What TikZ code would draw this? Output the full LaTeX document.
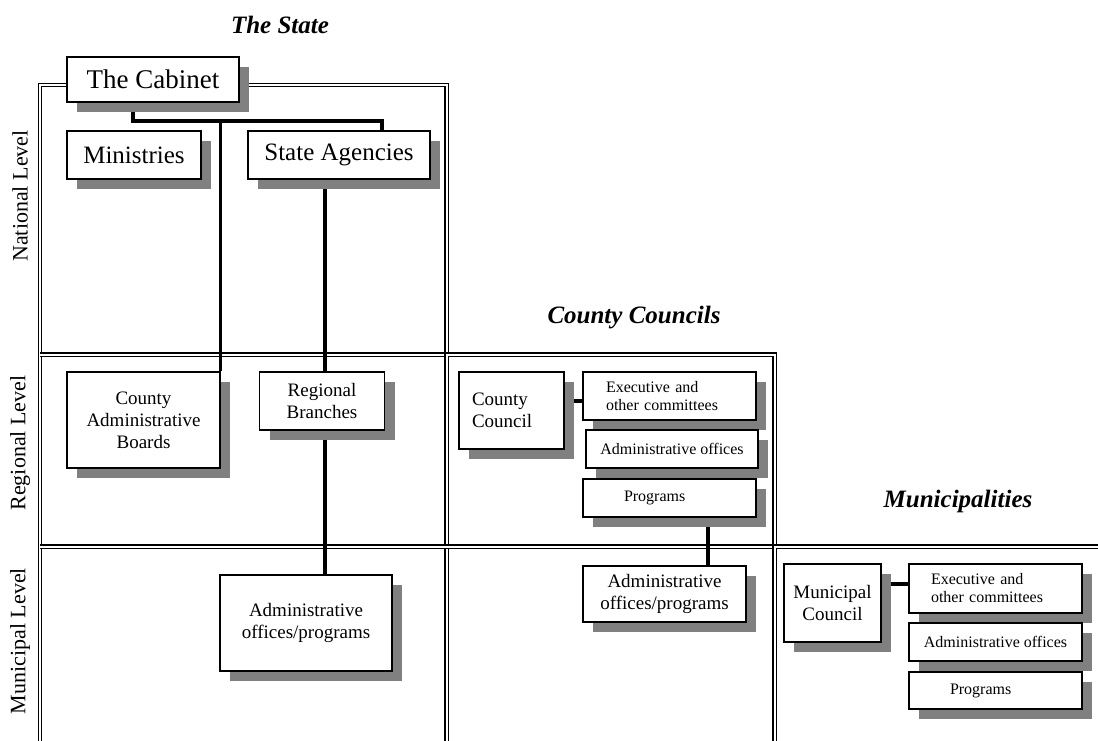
\documentclass[tikz,border=0pt]{standalone}
\usepackage{fontspec}
\setmainfont{Liberation Serif}
\usetikzlibrary{shadows, backgrounds, calc}

\begin{document}
\begin{tikzpicture}[x=1pt, y=-1pt,
    unit/.style     = {draw, fill=white, line width=1.1pt, inner sep=0pt,
                       align=center,
                       drop shadow={shadow xshift=10pt, shadow yshift=-10pt,
                                    fill=black!50, opacity=1}},
    bigfont/.style  = {font=\fontsize{25}{29}\selectfont},
    midfont/.style  = {font=\fontsize{19}{22}\selectfont},
    smallfont/.style= {font=\fontsize{16}{18}\selectfont},
    lefttext/.style 2 args = {align=left, inner xsep=#1, text width=#2},
    levelframe/.style = {draw, double, double distance=2pt, line width=1.3pt},
    link/.style     = {line width=3.4pt},
    level/.style    = {rotate=90, font=\fontsize{22}{24}\selectfont},
    heading/.style  = {anchor=base, font=\fontsize{25}{28}\selectfont\bfseries\itshape}]
  \useasboundingbox (0,0) rectangle (1098,740);

  % headings and levels
  \node[heading] (statetitle)  at (280,33)  {The State};
  \node[heading] (countytitle) at (634,323) {County Councils};
  \node[heading] (munititle)   at (958,507) {Municipalities};
  \node[level] (national)  at (20,196) {National Level};
  \node[level] (regional)  at (20,443) {Regional Level};
  \node[level] (municipal) at (20,641) {Municipal Level};

  % the state
  \node[unit, font=\fontsize{27}{30}\selectfont, minimum width=172, minimum height=45]
    (cabinet) at (153,79.5) {The Cabinet};
  \node[unit, bigfont, minimum width=134, minimum height=48]
    (ministries) at (134,155) {Ministries};
  \node[unit, bigfont, minimum width=182, minimum height=48]
    (agencies) at (339,155) {State Agencies};
  \node[unit, midfont, minimum width=153, minimum height=96]
    (boards) at (143.5,420) {County\\Administrative\\Boards};
  \node[unit, midfont, minimum width=125, minimum height=58]
    (branches) at (322,401) {Regional\\Branches};
  \node[unit, midfont, minimum width=172, minimum height=96]
    (stateoffices) at (306,623) {Administrative\\offices/programs};

  % county councils
  \node[unit, midfont, lefttext={13pt}{79pt}, minimum height=77]
    (countycouncil) at (511.5,410.5) {County\\Council};
  \node[unit, smallfont, lefttext={23pt}{127pt}, minimum height=48]
    (cexec) at (669.5,396) {Executive and\\other committees};
  \node[unit, smallfont, minimum width=172, minimum height=38]
    (coffices) at (672,449) {Administrative offices};
  \node[unit, smallfont, lefttext={41pt}{91pt}, minimum height=38]
    (cprog) at (669.5,498) {Programs};
  \node[unit, midfont, minimum width=163, minimum height=56]
    (cofficesprog) at (664.5,594) {Administrative\\offices/programs};

  % municipalities
  \node[unit, midfont, minimum width=97, minimum height=78]
    (mcouncil) at (832.5,603) {Municipal\\Council};
  \node[unit, smallfont, lefttext={22pt}{129pt}, minimum height=49]
    (mexec) at (995.5,588.5) {Executive and\\other committees};
  \node[unit, smallfont, minimum width=173, minimum height=38]
    (moffices) at (995.5,642) {Administrative offices};
  \node[unit, smallfont, lefttext={41pt}{91pt}, minimum height=37]
    (mprog) at (995.5,690.5) {Programs};

  \coordinate (busL) at (133,121);
  \coordinate (busR) at (382,121);
  \coordinate (trunk) at (325,0);
  \coordinate (ccdrop) at (708,0);
  \coordinate (ccbar) at (0,401);
  \coordinate (mcbar) at (0,584);

  \begin{scope}[on background layer]
    % frames of the three levels
    \draw[levelframe] (40,85) rectangle (446.5,780);
    \draw[levelframe] (40,354.5) -- (446.5,354.5);
    \draw[levelframe] (446.5,354.5) rectangle (774.5,780);
    \draw[levelframe] (40,546.5) -- (774.5,546.5);
    \draw[levelframe] (774.5,546.5) rectangle (1130,780);
    % connectors
    \draw[link] (cabinet.south -| busL) -- (busL) -- (busR) -- (agencies.north -| busR);
    \draw[link] (boards.north east |- busL) -- (boards.north east);
    \draw[link] (agencies.south -| trunk) -- (stateoffices.north -| trunk);
    \draw[link] (countycouncil.east |- ccbar) -- (cexec.west |- ccbar);
    \draw[link] (cprog.south -| ccdrop) -- (cofficesprog.north -| ccdrop);
    \draw[link] (mcouncil.east |- mcbar) -- (mexec.west |- mcbar);
  \end{scope}
\end{tikzpicture}
\end{document}
